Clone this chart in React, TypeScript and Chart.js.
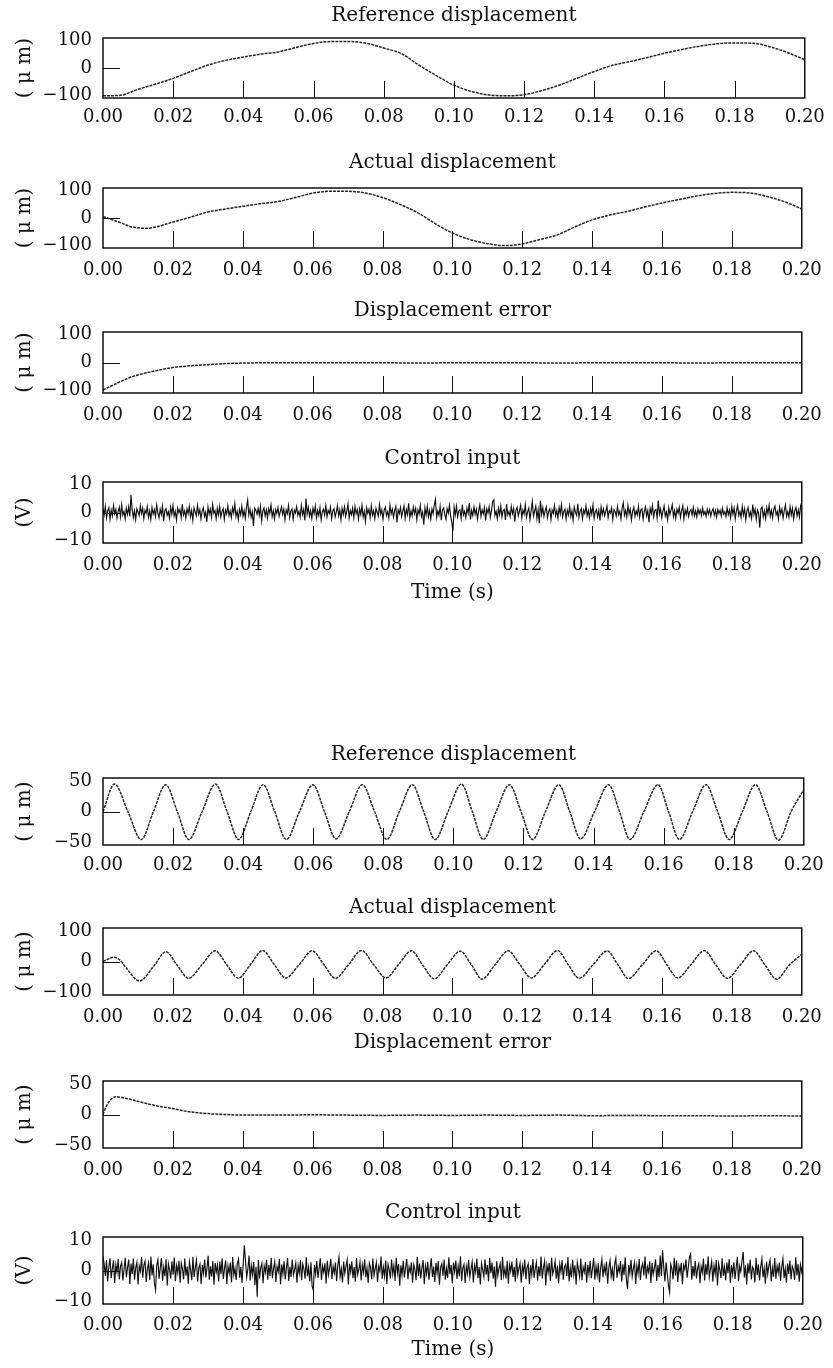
import React, { useEffect, useRef } from "react";
import { Chart, registerables } from "chart.js";

Chart.register(...registerables);

const FONT = "'DejaVu Serif', serif";
const INK = "#111";

// ---- axis ticks ----
const X_TICKS = [0, 0.02, 0.04, 0.06, 0.08, 0.1, 0.12, 0.14, 0.16, 0.18, 0.2];
const X_INNER_TICKS = [0.02, 0.04, 0.06, 0.08, 0.1, 0.12, 0.14, 0.16, 0.18];
const UM100_TICKS = [-100, 0, 100];
const UM50_TICKS = [-50, 0, 50];
const VOLT_TICKS = [-10, 0, 10];

// ---- case 1 (slow reference) ----
const REF1_T = [0, 0.005, 0.01, 0.015, 0.02, 0.025, 0.03, 0.035, 0.04, 0.045, 0.05, 0.055, 0.06, 0.065, 0.07, 0.075, 0.08, 0.085, 0.09, 0.095, 0.1, 0.105, 0.11, 0.115, 0.12, 0.125, 0.13, 0.135, 0.14, 0.145, 0.15, 0.155, 0.16, 0.165, 0.17, 0.175, 0.18, 0.185, 0.19, 0.195, 0.2];
const REF1_Y = [-102, -100, -78, -59, -38, -13, 11, 28, 40, 51, 59, 75, 90, 97, 97, 91, 73, 53, 11, -28, -63, -86, -99, -102, -98, -83, -63, -38, -13, 9, 23, 38, 54, 68, 80, 89, 92, 91, 78, 57, 30];

const ACT1_T = [0, 0.0025, 0.005, 0.0075, 0.01, 0.0125, 0.015, 0.02, 0.025, 0.03, 0.035, 0.04, 0.045, 0.05, 0.055, 0.06, 0.065, 0.07, 0.075, 0.08, 0.085, 0.09, 0.095, 0.1, 0.105, 0.11, 0.115, 0.12, 0.125, 0.13, 0.135, 0.14, 0.145, 0.15, 0.155, 0.16, 0.165, 0.17, 0.175, 0.18, 0.185, 0.19, 0.195, 0.2];
const ACT1_Y = [6, -6, -17, -30, -36, -38, -33, -15, 3, 22, 33, 43, 52, 60, 75, 91, 98, 98, 92, 75, 50, 20, -20, -55, -79, -94, -101, -95, -79, -62, -33, -7, 11, 24, 40, 55, 68, 81, 90, 94, 92, 79, 60, 33];

const ERR1_T = [0, 0.0025, 0.005, 0.0075, 0.01, 0.015, 0.02, 0.025, 0.03, 0.035, 0.04, 0.05, 0.06, 0.07, 0.08, 0.09, 0.1, 0.11, 0.12, 0.13, 0.14, 0.15, 0.16, 0.17, 0.18, 0.19, 0.2];
const ERR1_Y = [-99, -84, -69, -55, -45, -30, -18, -12, -8, -4, -2, -1, -1, -1, -1, -2, -1, -1, -1, -2, -1, -1, -1, -2, -1, -1, -1];

const CTRL1_Y = [
  1.4, -0.8, 2.2, -1.9, 0.6, 1.7, -2.4, 0.9, -1.2, 2.5, -0.5, 1.1, -2.0, 0.3, 1.9, -1.6, 2.8, -0.9, 0.4, -2.3,
  1.5, -0.7, 2.0, -1.4, 6.3, 1.2, -1.8, 0.6, -2.6, 1.3, 0.2, -1.1, 2.4, -0.4, 1.6, -2.2, 0.8, -0.3, 2.1, -1.7,
  0.5, -2.5, 1.8, -0.6, 1.0, -1.5, 2.7, -0.2, -1.9, 1.2, -0.8, 2.3, -3.1, 0.7, 1.4, -1.0, 0.3, -2.1, 1.9, -0.6,
  2.5, -1.3, 0.4, -2.7, 1.6, -0.1, 1.1, -1.8, 3.0, -0.9, 0.6, -2.0, 1.3, -0.4, 2.2, -1.5, 0.8, -2.8, 1.7, 0.2,
  -1.2, 2.6, -0.7, 1.0, -2.3, 0.5, 1.8, -1.4, 0.1, -3.4, 2.0, -0.6, 1.2, -1.7, 2.9, -0.3, 0.7, -2.2, 1.5, -0.9,
  2.1, -1.6, 0.3, 1.4, -2.5, 0.9, -0.5, 2.4, -1.1, 0.6, -1.9, 1.7, -0.2, 3.2, -1.4, 0.4, -2.6, 1.1, -0.8, 2.3,
  -1.3, 0.7, -2.1, 1.9, 4.5, -0.9, 1.3, -1.7, 0.2, -4.9, 1.6, 0.8, -0.6, 1.5, -1.0, 2.2, -3.0, 0.5, 1.6, -1.2,
  0.9, -2.0, 1.4, -0.3, 2.7, -1.5, 0.6, -2.3, 1.1, -0.4, 1.8, -1.4, 0.3, 2.0, -0.7, 1.2, -2.6, 0.9, -0.4, 2.5,
  -1.8, 0.5, 1.3, -2.4, 0.8, -0.2, 2.1, -1.0, 0.4, -1.7, 2.6, -0.8, 1.1, -2.9, 5.0, -0.5, 1.9, -1.3, 0.6, -2.1,
  1.6, -0.4, 2.3, -1.9, 0.7, -1.1, 1.8, -2.6, 0.3, 1.2, -0.9, 2.5, -1.5, 0.8, -0.3, 1.9, -2.2, 0.6, 1.4, -1.6,
  0.2, 2.4, -1.2, 0.9, -2.7, 1.5, -0.6, 2.0, -1.4, 0.5, 3.1, -2.0, 0.7, -0.8, 1.6, -1.9, 2.2, -0.4, 1.0, -2.3,
  1.3, -0.7, 2.6, -1.6, 0.4, -3.2, 1.7, -0.3, 1.1, -1.8, 2.4, -0.9, 0.6, -2.2, 1.5, 0.1, -1.3, 2.8, -0.6, 1.0,
  -2.5, 0.8, 1.9, -1.1, 0.3, -2.0, 2.7, -0.5, 1.2, -1.7, 0.6, 2.2, -3.6, 0.9, -0.4, 1.8, -1.5, 0.5, 2.4, -2.1,
  1.1, -0.8, 3.3, -1.9, 0.6, -1.2, 2.0, -0.3, 1.5, -2.6, 0.9, -0.6, 2.5, -1.4, 0.2, -4.4, 1.7, -0.9, 2.1, -1.6,
  0.7, -2.3, 1.3, -0.4, 2.8, 4.8, -1.7, 0.5, -1.0, 2.2, -2.8, 0.9, 1.6, -0.7, -2.4, 1.4, -0.2, 2.6, -1.3, -3.5,
  -6.7, 1.9, -0.8, 2.3, -1.5, 0.6, 1.0, -2.1, 2.9, -0.9, 0.4, -1.8, 1.6, -0.3, 3.4, -2.5, 0.8, -1.1, 2.0, -0.6,
  1.2, -2.4, 0.5, 2.7, -1.4, 0.9, -0.5, 1.8, -2.9, 1.3, -0.2, 2.1, -1.7, 0.6, 3.9, 4.6, -1.0, 0.4, -2.2, 1.5,
  -0.8, 2.4, -1.6, 0.7, 1.1, -2.7, 3.0, -0.9, 0.3, -1.5, 2.2, -0.4, 1.4, -3.3, 0.8, 1.9, -1.2, 0.5, 2.6, -2.0,
  0.9, -0.6, 2.8, -1.8, 0.2, 1.6, -2.5, 0.7, 4.0, -1.3, 0.5, 2.3, -2.2, 1.0, -3.9, 4.2, -0.7, 1.7, -1.4, 0.6,
  2.0, -1.9, 0.4, 1.3, -2.6, 0.9, -0.3, 2.5, -1.1, 0.7, -2.0, 1.8, -0.5, 2.9, -1.6, 0.3, 1.2, -2.4, 0.8, -0.9,
  2.2, -1.4, 0.6, -2.8, 1.9, 0.1, -1.0, 3.1, -1.7, 0.5, 1.4, -2.3, 0.9, -0.4, 2.4, -1.2, 0.7, -1.9, 1.5, -0.6,
  2.7, -2.1, 0.3, 1.1, -1.5, 0.8, -2.9, 2.0, -0.7, 1.3, -1.1, 0.4, 2.3, -1.8, 0.6, -0.2, 1.7, -2.5, 1.0, 0.3,
  -1.3, 2.1, -0.8, 0.5, -2.2, 1.6, 3.5, -1.0, 0.8, -1.6, 2.6, -0.5, 1.2, -2.7, 0.4, 1.9, -1.4, 0.6, -0.9, 2.2,
  -1.7, 0.9, 1.4, -2.4, 0.3, 2.0, -1.2, 0.7, -3.5, 1.5, -0.4, 2.5, -1.6, 0.8, 1.1, -2.0, 4.3, -0.6, 1.3, -1.9,
  0.5, 2.3, -1.3, 0.2, -2.6, 1.7, -0.7, 1.0, 2.8, -1.5, 0.6, -2.1, 1.2, -0.3, 1.9, -1.8, 0.7, 2.4, -2.3, 0.9,
  -0.8, 1.5, -1.4, 0.4, 1.1, -0.9, 1.8, -1.2, 0.6, -1.6, 1.3, -0.5, 0.9, -1.1, 1.6, -0.7, 0.3, -1.4, 1.2, -0.6,
  1.0, -1.3, 0.5, 1.4, -1.0, 0.7, -1.7, 1.1, -0.4, 0.8, -1.2, 1.5, -0.6, 0.3, -1.5, 1.7, -0.8, 0.9, -1.9, 2.1,
  -0.6, 1.6, -2.3, 0.7, 2.5, -1.1, 0.4, -1.8, 2.2, -0.9, 1.3, -2.6, 0.6, 1.8, -1.4, 0.2, -2.1, 2.9, -0.7, 1.2,
  -2.5, 0.9, -0.3, -5.5, 1.4, 2.0, -1.6, 0.5, -2.2, 1.7, -0.4, 2.6, -1.3, 0.8, -1.9, 1.1, 2.3, -0.8, 0.4, -2.4,
  1.9, -0.5, 1.2, -2.0, 0.7, 2.7, -1.4, 0.3, -1.7, 2.1, -0.9, 1.5, -2.3, 0.6, 1.8, -1.2, 0.9, -1.6, 2.4, 0.8,
];

// ---- case 2 (fast reference) ----
const REF2_T = [0, 0.0033, 0.0071, 0.0109, 0.0144, 0.0179, 0.0212, 0.0245, 0.0283, 0.0321, 0.0354, 0.0387, 0.0422, 0.0457, 0.049, 0.0523, 0.0561, 0.0599, 0.0632, 0.0665, 0.0703, 0.074, 0.0775, 0.081, 0.0846, 0.0883, 0.0915, 0.0948, 0.0985, 0.1023, 0.1054, 0.1085, 0.1122, 0.116, 0.1193, 0.1226, 0.1263, 0.1301, 0.1332, 0.1363, 0.1403, 0.1443, 0.1474, 0.1504, 0.1544, 0.1584, 0.1614, 0.1645, 0.1683, 0.1721, 0.1754, 0.1787, 0.1825, 0.1862, 0.1895, 0.1928, 0.1964, 0.2];
const REF2_Y = [0, 45, 0, -46, 0, 44, 0, -46, 0, 45, 0, -46, 0, 44, 0, -46, 0, 44, 0, -45, 0, 44, 0, -46, 0, 44, 0, -46, 0, 45, 0, -46, 0, 44, 0, -46, 0, 44, 0, -45, 0, 44, 0, -46, 0, 44, 0, -46, 0, 44, 0, -46, 0, 44, 0, -47, 0, 36];

const ACT2_T = [0, 0.0015, 0.0032, 0.0048, 0.0066, 0.0104, 0.0145, 0.018, 0.0212, 0.0245, 0.0283, 0.0321, 0.0354, 0.0387, 0.0422, 0.0457, 0.049, 0.0523, 0.0561, 0.0599, 0.0632, 0.0665, 0.0703, 0.074, 0.0775, 0.081, 0.0846, 0.0883, 0.0915, 0.0948, 0.0985, 0.1023, 0.1054, 0.1085, 0.1122, 0.116, 0.1193, 0.1226, 0.1263, 0.1301, 0.1332, 0.1363, 0.1403, 0.1443, 0.1474, 0.1504, 0.1544, 0.1584, 0.1614, 0.1645, 0.1683, 0.1721, 0.1754, 0.1787, 0.1825, 0.1862, 0.1895, 0.1928, 0.1964, 0.2];
const ACT2_Y = [0, 8, 14, 5, -20, -64, -16, 32, -12, -55, -11, 35, -10, -55, -10, 36, -10, -54, -11, 35, -10, -55, -10, 36, -11, -54, -10, 35, -12, -57, -11, 34, -10, -58, -11, 35, -10, -54, -10, 36, -11, -55, -10, 35, -11, -56, -10, 35, -11, -54, -10, 36, -11, -55, -10, 35, -12, -58, -12, 24];

const ERR2_T = [0, 0.001, 0.0025, 0.004, 0.006, 0.0085, 0.011, 0.0132, 0.0165, 0.0198, 0.023, 0.027, 0.031, 0.035, 0.04, 0.05, 0.06, 0.07, 0.08, 0.09, 0.1, 0.11, 0.12, 0.13, 0.14, 0.15, 0.16, 0.17, 0.18, 0.19, 0.2];
const ERR2_Y = [0, 14, 26, 29, 27, 24, 20, 17, 13, 10, 6, 3, 1, 0, -1, -1, -0.5, -1, -1.5, -1, -1.5, -1, -1.5, -1, -2, -1.5, -2, -2, -2.5, -2, -2.5];

const CTRL2_Y = [
  4.7, 2.1, -1.8, 3.4, -3.6, 1.2, 4.0, -2.5, 0.7, 3.3, -4.1, 1.9, -0.6, 3.8, -2.9, 1.4, 2.6, -3.3, 0.4, 4.2,
  -2.2, 1.0, 3.6, -4.4, 2.3, -1.1, 3.9, -3.0, 0.9, 2.7, -4.6, 1.5, -0.3, 4.4, -2.4, 1.8, 3.1, -3.8, 0.6, 2.5,
  -3.1, 4.6, -1.6, 2.0, -4.2, -6.4, 1.7, 3.5, -2.7, 0.8, 4.1, -3.4, 1.1, -1.9, 3.7, -4.9, 2.2, 0.3, -2.6, 3.0,
  -1.4, 4.3, -3.5, 1.6, -0.8, 3.2, -4.0, 2.4, 0.5, -2.9, 3.9, -1.7, 1.3, -4.3, 2.8, 0.2, -3.2, 4.5, -2.1, 1.0,
  3.4, -3.7, 0.9, 2.1, -4.5, 1.8, -1.0, 3.6, -2.3, 0.6, 4.8, -3.0, 1.4, -2.0, 3.1, -4.7, 2.5, -0.5, 1.9, -3.6,
  2.9, -1.2, 4.0, -2.8, 0.7, 3.3, -4.4, 1.5, -0.9, 2.6, -3.9, 4.4, -1.5, 0.8, -3.1, 2.2, 3.7, -2.4, 1.1, -4.1,
  2.0, 8.3, 3.1, -2.2, 0.4, 4.9, -3.3, 1.7, -1.3, 2.8, -4.8, 1.2, -8.6, 3.4, -2.6, 0.9, 2.3, -4.2, 1.4, -0.7,
  3.5, -3.0, 1.9, -1.8, 4.2, -2.5, 0.6, 2.9, -3.8, 1.3, -0.4, 3.8, -4.5, 2.0, -1.1, 3.0, -2.9, 0.8, 4.1, -3.4,
  1.2, -2.1, 3.6, -1.5, 0.3, 2.5, -4.0, 1.6, -0.9, 3.4, -3.2, 2.1, 0.5, -2.7, 4.3, -1.9, 1.0, -3.6, 2.7, -5.2,
  -6.4, 1.8, -1.2, 3.1, -2.4, 0.7, 4.0, -3.1, 1.5, -0.6, 2.4, -4.3, 3.2, -1.4, 0.9, 3.8, -2.8, 1.3, -0.8, 2.6,
  -3.5, 1.7, 4.4, -2.0, 0.6, -3.9, 2.9, -1.0, 1.4, 3.5, -4.6, 2.2, -0.5, 3.0, -2.5, 1.1, -3.7, 4.1, -1.3, 0.4,
  2.8, -3.3, 1.9, -0.7, 3.7, -2.2, 0.8, -4.1, 2.4, 1.0, -2.9, 3.9, -1.6, 0.5, 2.6, -3.8, 1.4, -0.2, 4.6, -2.7,
  1.1, -1.9, 3.3, -4.4, 2.0, 0.3, -2.6, 3.6, -1.2, 1.6, -3.4, 4.2, -0.8, 2.1, -5.0, 1.7, -1.5, 3.2, -2.3, 0.9,
  3.8, -2.9, 1.2, -0.5, 2.7, -4.0, 1.9, 0.4, -3.2, 4.5, -1.8, 2.3, -2.6, 0.8, 3.4, -4.5, 1.5, -1.1, 2.9, -3.0,
  0.6, 4.0, -2.1, 1.3, -3.8, 2.5, -0.9, 3.1, -4.7, 1.0, 2.2, -1.7, 3.6, -3.0, 0.7, -2.4, 4.3, -1.2, 1.8, -4.2,
  2.6, -0.4, 3.3, -2.8, 1.5, -1.9, 4.7, -3.5, 0.9, 2.0, -4.1, 1.4, -1.0, 3.5, -2.2, 0.5, 2.8, -3.9, 1.6, -0.6,
  3.9, -2.5, 1.1, -4.6, 2.4, 0.2, -2.0, 3.7, -1.4, 1.8, -3.6, 4.1, -0.9, 2.6, -2.7, 1.3, -5.3, 3.0, -1.6, 0.8,
  2.3, -3.1, 4.5, -1.7, 0.6, -2.6, 3.2, -4.3, 1.9, -0.3, 2.9, -2.1, 1.2, -3.7, 4.0, -1.5, 0.7, 2.4, -4.0, 1.5,
  -0.8, 3.6, -2.9, 1.0, 2.2, -4.4, 1.7, -1.3, 3.8, -2.4, 0.5, 2.7, -3.3, 1.4, -1.9, 4.6, -2.6, 0.9, 3.1, -4.9,
  1.8, -0.7, 2.5, -3.4, 4.2, -1.1, 0.4, 3.0, -2.7, 1.6, -4.2, 2.1, -0.5, 3.4, -3.0, 1.2, 2.0, -1.8, 4.4, -3.6,
  0.8, -2.3, 3.5, -1.4, 1.7, -4.7, 2.6, 0.3, -2.1, 3.9, -3.2, 1.1, -0.6, 2.8, -4.0, 1.9, -1.2, 3.2, -2.5, 0.7,
  4.1, -3.0, 1.4, -1.7, 2.4, -3.9, 0.9, 3.6, -2.2, 1.5, -0.8, 2.9, -4.3, 1.0, 3.3, -1.9, 0.6, -3.5, 2.2, 4.0,
  -2.4, 1.3, -0.4, 3.1, -3.7, 2.0, -1.5, 4.3, -2.8, -6.1, 1.8, -0.9, 3.5, -2.0, 0.7, 2.6, -4.4, 1.6, -1.0, 3.8,
  -3.1, 0.9, 2.3, -1.6, 4.6, -2.7, 1.2, -0.5, 3.0, -4.1, 2.5, -1.3, 0.8, 3.7, -3.4, 1.9, -2.2, 4.9, -1.8, 6.6,
  1.1, -3.6, 2.7, -1.0, -4.8, -7.1, 2.1, 0.6, -2.9, 4.2, -1.6, 3.3, -3.8, 1.4, -0.7, 2.5, -4.5, 1.7, 0.3, 3.6,
  -2.4, 1.0, 4.4, 5.4, -3.0, 1.5, -1.9, 3.1, -2.6, 0.8, 2.2, -4.2, 1.3, -0.6, 3.9, -3.3, 2.0, -1.4, 4.7, -2.1,
  0.5, 2.9, -3.7, 1.6, -1.1, 3.4, -4.9, 2.3, 0.2, -2.5, 4.0, -1.7, 1.2, -3.2, 2.6, -0.9, 3.8, -4.0, 1.8, -1.3,
  2.7, -2.8, 0.9, 4.5, -3.5, 1.4, -0.4, 3.2, 6.1, -2.3, 1.7, -4.6, 2.4, -1.0, 3.6, -2.9, 1.1, 0.4, -3.9, 4.2,
  -1.5, 2.0, -3.3, 1.3, 3.8, -2.2, 0.7, -4.3, 2.9, -1.2, 1.6, 3.4, -3.6, 0.9, -2.0, 4.1, -2.7, 1.5, -0.8, 2.6,
  -3.4, 1.2, 3.9, -2.5, 0.6, -4.0, 2.3, -1.1, 3.3, -2.9, 1.4, 0.3, -3.1, 4.3, -1.6, 2.1, -3.7, 1.8, -0.5, 2.2,
];

const T_END = 0.2;

type PanelSpec = {
  title: string;
  yTitle: string;
  yMin: number;
  yMax: number;
  yTicks: number[];
  top: number;
  bottom: number;
  titleGap: number;
  xLabelGap: number;
  timeCenter?: number;
  times?: number[];
  values: number[];
  smooth: boolean;
};

const HEADER = 50;
const TICK_FONT = 18;

const PANELS: PanelSpec[] = [
  { title: "Reference displacement", yTitle: "( μ m)", yMin: -110, yMax: 110, yTicks: UM100_TICKS, top: 38, bottom: 98, titleGap: 22, xLabelGap: 19, times: REF1_T, values: REF1_Y, smooth: true },
  { title: "Actual displacement", yTitle: "( μ m)", yMin: -110, yMax: 110, yTicks: UM100_TICKS, top: 188, bottom: 248, titleGap: 25, xLabelGap: 22, times: ACT1_T, values: ACT1_Y, smooth: true },
  { title: "Displacement error", yTitle: "( μ m)", yMin: -110, yMax: 110, yTicks: UM100_TICKS, top: 332, bottom: 393, titleGap: 21, xLabelGap: 22, times: ERR1_T, values: ERR1_Y, smooth: true },
  { title: "Control input", yTitle: "(V)", yMin: -11, yMax: 11, yTicks: VOLT_TICKS, top: 482, bottom: 543, titleGap: 23, xLabelGap: 22, timeCenter: 593, values: CTRL1_Y, smooth: false },
  { title: "Reference displacement", yTitle: "( μ m)", yMin: -55, yMax: 55, yTicks: UM50_TICKS, top: 778, bottom: 845, titleGap: 23, xLabelGap: 20, times: REF2_T, values: REF2_Y, smooth: true },
  { title: "Actual displacement", yTitle: "( μ m)", yMin: -110, yMax: 110, yTicks: UM100_TICKS, top: 928, bottom: 995, titleGap: 20, xLabelGap: 22, times: ACT2_T, values: ACT2_Y, smooth: true },
  { title: "Displacement error", yTitle: "( μ m)", yMin: -55, yMax: 55, yTicks: UM50_TICKS, top: 1081, bottom: 1148, titleGap: 38, xLabelGap: 22, times: ERR2_T, values: ERR2_Y, smooth: true },
  { title: "Control input", yTitle: "(V)", yMin: -11, yMax: 11, yTicks: VOLT_TICKS, top: 1237, bottom: 1304, titleGap: 24, xLabelGap: 21, timeCenter: 1350, values: CTRL2_Y, smooth: false },
];

const framePlugin = {
  id: "frameTicks",
  afterDatasetsDraw(chart: any) {
    const { ctx, chartArea, scales } = chart;
    const { left, right, top, bottom } = chartArea;
    const x = scales.x;
    const y = scales.y;
    ctx.save();
    ctx.strokeStyle = INK;
    ctx.lineWidth = 1;
    ctx.beginPath();
    for (const v of X_INNER_TICKS) {
      const px = Math.round(x.getPixelForValue(v)) + 0.5;
      ctx.moveTo(px, bottom);
      ctx.lineTo(px, bottom - 17);
    }
    const py = Math.round(y.getPixelForValue(0)) + 0.5;
    ctx.moveTo(left, py);
    ctx.lineTo(left + 17, py);
    ctx.stroke();
    ctx.lineWidth = 1.5;
    ctx.strokeRect(left, top, right - left, bottom - top);
    ctx.restore();
  },
};

function fmtY(v: number): string {
  return v < 0 ? "\u2212" + Math.abs(v) : String(v);
}

function Panel({ spec }: { spec: PanelSpec }) {
  const ref = useRef<HTMLCanvasElement | null>(null);
  const xh = spec.timeCenter ? spec.timeCenter - spec.bottom + 12 : 40;
  const height = HEADER + (spec.bottom - spec.top) + xh;

  useEffect(() => {
    if (!ref.current) return;
    const n = spec.values.length;
    const pts = spec.values.map((v, i) => ({
      x: spec.times ? spec.times[i] : (i * T_END) / (n - 1),
      y: v,
    }));
    const titleTop = HEADER - 12 - spec.titleGap;
    const chart = new Chart(ref.current, {
      type: "line",
      data: {
        datasets: [
          {
            data: pts,
            borderColor: spec.smooth ? "#262626" : "#121212",
            borderWidth: spec.smooth ? 1.5 : 1.15,
            borderDash: spec.smooth ? [3, 1] : [],
            pointRadius: 0,
            fill: false,
            tension: 0,
            cubicInterpolationMode: spec.smooth ? "monotone" : "default",
          },
        ],
      },
      options: {
        responsive: false,
        animation: false,
        events: [],
        layout: { padding: { left: 0, right: 23, top: 0, bottom: 0 } },
        plugins: {
          legend: { display: false },
          tooltip: { enabled: false },
          title: {
            display: true,
            text: spec.title,
            fullSize: false,
            color: INK,
            font: { family: FONT, size: 20, weight: "normal", lineHeight: 1.2 },
            padding: { top: titleTop, bottom: HEADER - 24 - titleTop },
          },
        },
        scales: {
          x: {
            type: "linear",
            min: 0,
            max: T_END,
            grid: { display: false, drawTicks: false },
            border: { display: false },
            afterBuildTicks: (s: any) => {
              s.ticks = X_TICKS.map((v) => ({ value: v }));
            },
            afterFit: (s: any) => {
              s.height = xh;
            },
            ticks: {
              autoSkip: false,
              maxRotation: 0,
              minRotation: 0,
              padding: spec.xLabelGap - (TICK_FONT * 1.2) / 2,
              color: INK,
              font: { family: FONT, size: TICK_FONT, lineHeight: 1.2 },
              callback: (v: any) => Number(v).toFixed(2),
            },
            title: spec.timeCenter
              ? {
                  display: true,
                  text: "Time (s)",
                  color: INK,
                  font: { family: FONT, size: 20, lineHeight: 1.2 },
                  padding: { top: 0, bottom: 0 },
                }
              : { display: false },
          },
          y: {
            type: "linear",
            min: spec.yMin,
            max: spec.yMax,
            grid: { display: false, drawTicks: false },
            border: { display: false },
            afterBuildTicks: (s: any) => {
              s.ticks = spec.yTicks.map((v) => ({ value: v }));
            },
            afterFit: (s: any) => {
              s.width = 103;
            },
            ticks: {
              padding: 11,
              color: INK,
              font: { family: FONT, size: TICK_FONT, lineHeight: 1.2 },
              callback: (v: any) => fmtY(Number(v)),
            },
            title: {
              display: true,
              text: spec.yTitle,
              color: INK,
              font: { family: FONT, size: 20, lineHeight: 1.2 },
              padding: { top: 13, bottom: 0 },
            },
          },
        },
      },
      plugins: [framePlugin],
    } as any);
    return () => chart.destroy();
  }, [spec]);

  return (
    <canvas
      ref={ref}
      width={833}
      height={height}
      style={{ position: "absolute", left: 0, top: spec.top - HEADER, width: 833, height }}
    />
  );
}

export default function App() {
  return (
    <div style={{ position: "absolute", left: 0, top: 0, width: 833, height: 1368, background: "#fff", overflow: "hidden" }}>
      {PANELS.map((p, i) => (
        <Panel key={i} spec={p} />
      ))}
    </div>
  );
}
